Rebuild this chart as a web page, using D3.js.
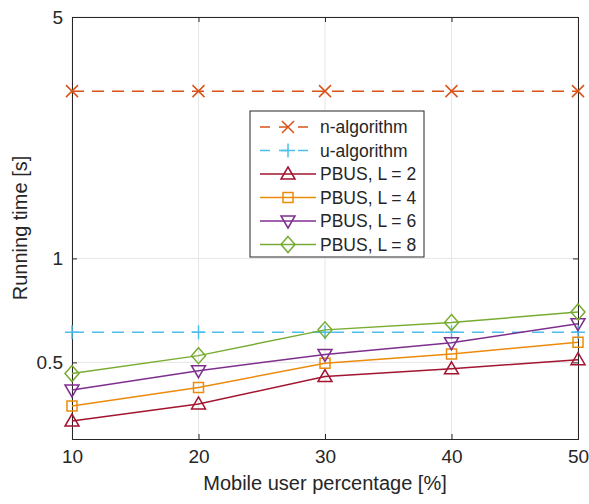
<!DOCTYPE html>
<html>
<head>
<meta charset="utf-8">
<script src="https://cdn.jsdelivr.net/npm/d3@7"></script>
<style>
  body { margin: 0; background: #fff; }
  text { font-family: "Liberation Sans", Arial, sans-serif; fill: #262626; }
</style>
</head>
<body>
<script>
// data
const percent = [10, 20, 30, 40, 50];
const nAlgo = [3.05, 3.05, 3.05, 3.05, 3.05];
const uAlgo = [0.611, 0.611, 0.611, 0.611, 0.611];
const pbusL2 = [0.338, 0.379, 0.455, 0.479, 0.509];
const pbusL4 = [0.374, 0.423, 0.497, 0.529, 0.572];
const pbusL6 = [0.416, 0.473, 0.527, 0.570, 0.647];
const pbusL8 = [0.464, 0.523, 0.621, 0.652, 0.700];
const yTicks = [0.5, 1, 5];

const series = [
  {name: "n-algorithm", vals: nAlgo, color: "#D95319", dash: "12,8", mark: "x"},
  {name: "u-algorithm", vals: uAlgo, color: "#4DBEEE", dash: "12,8", mark: "+"},
  {name: "PBUS, L = 2", vals: pbusL2, color: "#A2142F", dash: null, mark: "tri"},
  {name: "PBUS, L = 4", vals: pbusL4, color: "#EC8A0C", dash: null, mark: "sq"},
  {name: "PBUS, L = 6", vals: pbusL6, color: "#7E2F8E", dash: null, mark: "dtri"},
  {name: "PBUS, L = 8", vals: pbusL8, color: "#77AC30", dash: null, mark: "dia"}
];

const W = 589, H = 504;
const m = {left: 72, right: 11, top: 17, bottom: 65};
const svg = d3.select("body").append("svg").attr("width", W).attr("height", H);

const x = d3.scaleLinear().domain([10, 50]).range([m.left, W - m.right]);
const y = d3.scaleLog().domain([0.3, 5]).range([H - m.bottom, m.top]);

// grid
const g = svg.append("g");
g.selectAll(".gx").data(percent).enter().append("line")
  .attr("x1", d => x(d)).attr("x2", d => x(d))
  .attr("y1", y(0.3)).attr("y2", y(5))
  .attr("stroke", "#e6e6e6").attr("stroke-width", 1);
g.selectAll(".gy").data(yTicks).enter().append("line")
  .attr("x1", x(10)).attr("x2", x(50))
  .attr("y1", d => y(d)).attr("y2", d => y(d))
  .attr("stroke", "#e6e6e6").attr("stroke-width", 1);

// axes
const xAxis = d3.axisBottom(x).tickValues(percent).tickSize(-5).tickPadding(11).tickFormat(d3.format("d"));
const yAxis = d3.axisLeft(y).tickValues(yTicks).tickSize(-5).tickPadding(9).tickFormat(d => d);
svg.append("g").attr("transform", `translate(0,${y(0.3)})`).call(xAxis);
svg.append("g").attr("transform", `translate(${x(10)},0)`).call(yAxis);
svg.append("g").attr("transform", `translate(0,${y(5)})`)
  .call(d3.axisTop(x).tickValues(percent).tickSize(-5).tickFormat(""));
svg.append("g").attr("transform", `translate(${x(50)},0)`)
  .call(d3.axisRight(y).tickValues(yTicks).tickSize(-5).tickFormat(""));
svg.selectAll(".domain").attr("stroke", "#262626").attr("stroke-width", 1);
svg.selectAll(".tick line").attr("stroke", "#262626");
svg.selectAll(".tick text").style("font-size", "19px").attr("fill", "#262626");

svg.append("text").attr("x", (x(10) + x(50)) / 2).attr("y", 490)
  .attr("text-anchor", "middle").style("font-size", "20px").text("Mobile user percentage [%]");
svg.append("text").attr("transform", `translate(27,${(y(0.3) + y(5)) / 2}) rotate(-90)`)
  .attr("text-anchor", "middle").style("font-size", "20px").text("Running time [s]");

// markers
function marker(sel, type, color) {
  const s = 6;
  if (type === "x") {
    sel.append("path").attr("d", `M${-s},${-s}L${s},${s}M${-s},${s}L${s},${-s}`);
  } else if (type === "+") {
    sel.append("path").attr("d", `M${-s - 1},0L${s + 1},0M0,${-s - 1}L0,${s + 1}`);
  } else if (type === "tri") {
    sel.append("path").attr("d", `M0,${-s - 1}L${s + 1},${s - 1}L${-s - 1},${s - 1}Z`);
  } else if (type === "dtri") {
    sel.append("path").attr("d", `M0,${s + 1}L${s + 1},${-s + 1}L${-s - 1},${-s + 1}Z`);
  } else if (type === "sq") {
    sel.append("path").attr("d", `M-5,-5H5V5H-5Z`);
  } else if (type === "dia") {
    sel.append("path").attr("d", `M0,${-s - 2}L${s + 1},0L0,${s + 2}L${-s - 1},0Z`);
  }
  sel.selectAll("path").attr("fill", "none").attr("stroke", color).attr("stroke-width", 1.5);
}

const line = d3.line().x((d, i) => x(percent[i])).y(d => y(d));
series.forEach(s => {
  svg.append("path").datum(s.vals).attr("d", line)
    .attr("fill", "none").attr("stroke", s.color).attr("stroke-width", 1.5)
    .attr("stroke-dasharray", s.dash);
  s.vals.forEach((v, i) => {
    const mg = svg.append("g").attr("transform", `translate(${x(percent[i])},${y(v)})`);
    marker(mg, s.mark, s.color);
  });
});

// legend
const lg = svg.append("g").attr("transform", "translate(250,111)");
lg.append("rect").attr("width", 174).attr("height", 146)
  .attr("fill", "#fff").attr("stroke", "#262626").attr("stroke-width", 1);
series.forEach((s, i) => {
  const cy = 16 + i * 23.5;
  const row = lg.append("g").attr("transform", `translate(0,${cy})`);
  row.append("line").attr("x1", 10).attr("x2", 66).attr("y1", 0).attr("y2", 0)
    .attr("stroke", s.color).attr("stroke-width", 1.5).attr("stroke-dasharray", s.dash ? "10,9" : null);
  const mk = row.append("g").attr("transform", "translate(38,0)");
  marker(mk, s.mark, s.color);
  row.append("text").attr("x", 70).attr("y", 0).attr("dy", "0.35em")
    .style("font-size", "17.5px").text(s.name);
});
</script>
</body>
</html>
